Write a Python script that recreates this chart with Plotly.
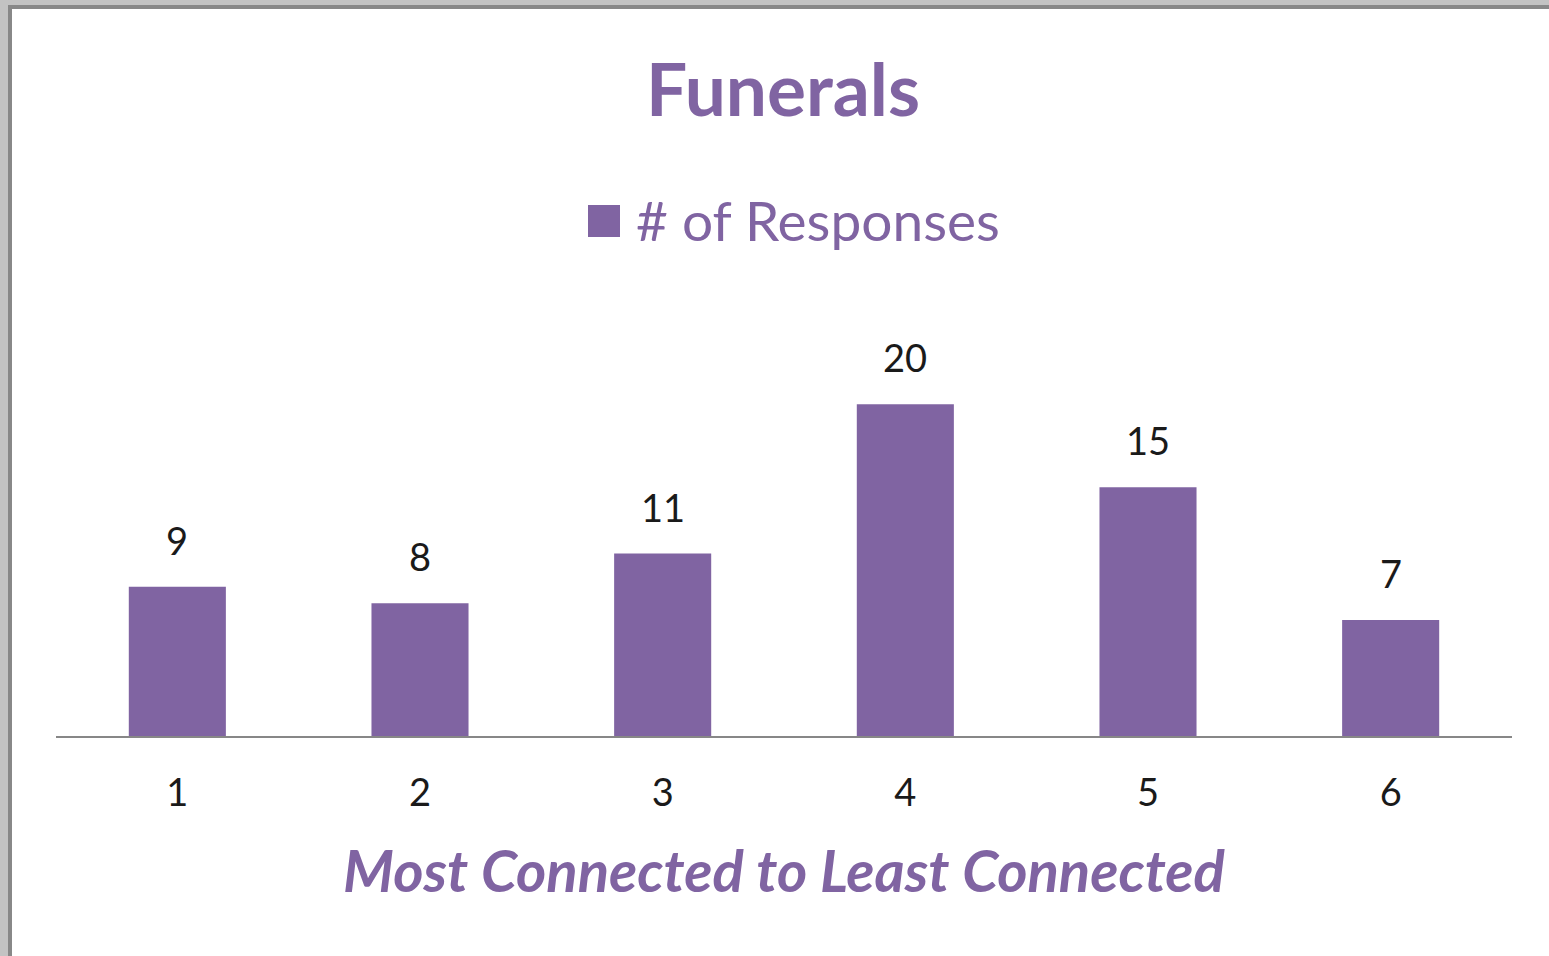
import plotly.graph_objects as go

categories = ["1", "2", "3", "4", "5", "6"]
responses = [9, 8, 11, 20, 15, 7]
series_name = "# of Responses"
chart_title = "Funerals"
x_title = "Most Connected to Least Connected"

PURPLE = "#8064A2"
W, H = 1549, 956
L, R, T, B = 56, 37, 338, 220
PW, PH = W - L - R, H - T - B

def px(x):
    return (x - L) / PW

def py(y):
    return (H - B - y) / PH

fig = go.Figure()
fig.add_trace(go.Bar(x=categories, y=responses, name=series_name,
                     marker=dict(color=PURPLE, line=dict(width=0)),
                     showlegend=False, hoverinfo="x+y"))

annotations = []
for i, v in enumerate(responses):
    annotations.append(dict(x=i, y=v, xref="x", yref="y", text=str(v),
                            showarrow=False, yanchor="bottom", yshift=22,
                            font=dict(family="Lato", size=38, color="#1a1a1a")))
# legend text
annotations.append(dict(x=px(634), y=py(220), xref="paper", yref="paper",
                        text=series_name, showarrow=False, xanchor="left",
                        yanchor="middle",
                        font=dict(family="Lato", size=55, color=PURPLE)))

shapes = [
    # legend swatch
    dict(type="rect", xref="paper", yref="paper", x0=px(588), x1=px(620),
         y0=py(237), y1=py(205), fillcolor=PURPLE, line=dict(width=0)),
    # window frame
    dict(type="rect", xref="paper", yref="paper", x0=px(0), x1=px(8),
         y0=py(H), y1=py(0), fillcolor="#c3c3c3", line=dict(width=0), layer="above"),
    dict(type="rect", xref="paper", yref="paper", x0=px(0), x1=px(W),
         y0=py(5), y1=py(0), fillcolor="#c3c3c3", line=dict(width=0), layer="above"),
    dict(type="rect", xref="paper", yref="paper", x0=px(8), x1=px(12),
         y0=py(H), y1=py(5), fillcolor="#888888", line=dict(width=0), layer="above"),
    dict(type="rect", xref="paper", yref="paper", x0=px(8), x1=px(W),
         y0=py(9), y1=py(5), fillcolor="#888888", line=dict(width=0), layer="above"),
]

fig.update_layout(
    width=W, height=H,
    margin=dict(l=L, r=R, t=T, b=B, autoexpand=False),
    paper_bgcolor="white", plot_bgcolor="white",
    bargap=0.6,
    title=dict(text=f"<b>{chart_title}</b>", x=px(783), xref="paper", xanchor="center",
               y=1 - 90 / H, yref="container", yanchor="middle",
               font=dict(family="Lato", size=73, color=PURPLE)),
    xaxis=dict(showline=True, linecolor="#878787", linewidth=2, ticks="",
               showgrid=False, zeroline=False,
               range=[-0.5, len(categories) - 0.5],
               tickfont=dict(family="Lato", size=38, color="#1a1a1a"),
               ticklabelstandoff=22,
               title=dict(text=f"<b><i>{x_title}</i></b>", standoff=39,
                          font=dict(family="Lato", size=58, color=PURPLE))),
    yaxis=dict(range=[0, 24], visible=False, showgrid=False, zeroline=False),
    annotations=annotations,
    shapes=shapes,
    showlegend=False,
)

fig.write_html("out.html", config={"displayModeBar": False},
               post_script="document.body.style.margin='0';document.body.style.overflow='hidden';")
